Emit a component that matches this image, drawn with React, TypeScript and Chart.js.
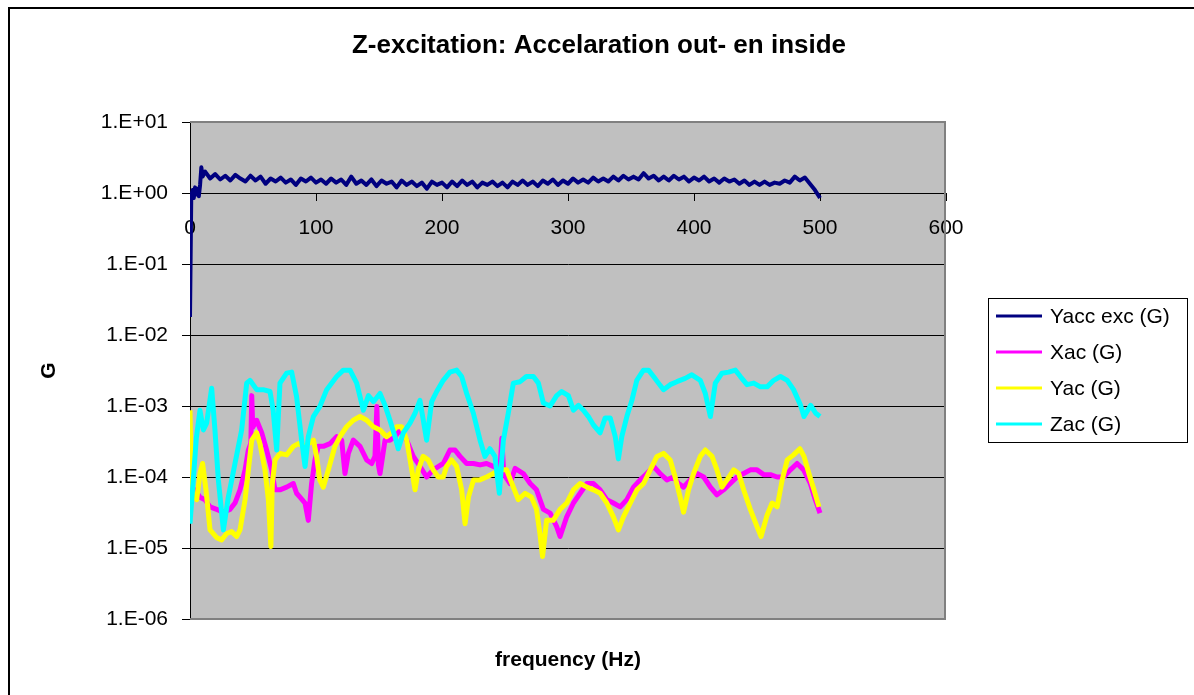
import React, { useEffect, useRef } from 'react';
import { Chart, registerables } from 'chart.js';

Chart.register(...registerables);

const FONT = "'Liberation Sans', Arial, sans-serif";

const TITLE = 'Z-excitation: Accelaration out- en inside';
const X_TITLE = 'frequency (Hz)';
const Y_TITLE = 'G';

const seriesLabels = ['Yacc exc (G)', 'Xac (G)', 'Yac (G)', 'Zac (G)'];
const seriesColors = ['#000080', '#FF00FF', '#FFFF00', '#00FFFF'];

const yTickValues = [1e-6, 1e-5, 1e-4, 1e-3, 1e-2, 1e-1, 1, 10];
const yTickLabels = ['1.E-06', '1.E-05', '1.E-04', '1.E-03', '1.E-02', '1.E-01', '1.E+00', '1.E+01'];
const xTickValues = [0, 100, 200, 300, 400, 500, 600];
const xTickLabels = ['0', '100', '200', '300', '400', '500', '600'];

// [frequency (Hz), G]
const yaccExc: [number, number][] = [
  [0, 0.018], [1, 0.9], [2, 1.1], [3, 0.85], [4, 1.2], [5, 0.95], [6, 1.15], [7, 0.9], [8, 1.3], [9, 2.3], [10, 1.7], [12, 2.0],
  [16, 1.6], [20, 1.85], [24, 1.55], [28, 1.75], [32, 1.5], [36, 1.8], [40, 1.6], [44, 1.45], [48, 1.75], [52, 1.5],
  [56, 1.7], [60, 1.35], [64, 1.6], [68, 1.45], [72, 1.65], [76, 1.4], [80, 1.55], [84, 1.3], [88, 1.6], [92, 1.45],
  [96, 1.65], [100, 1.4], [104, 1.55], [108, 1.35], [112, 1.6], [116, 1.4], [120, 1.55], [124, 1.3], [128, 1.7], [132, 1.35],
  [136, 1.5], [140, 1.3], [144, 1.55], [148, 1.25], [152, 1.5], [156, 1.35], [160, 1.45], [164, 1.2], [168, 1.5], [172, 1.3],
  [176, 1.45], [180, 1.25], [184, 1.4], [188, 1.15], [192, 1.45], [196, 1.3], [200, 1.4], [204, 1.2], [208, 1.45], [212, 1.25],
  [216, 1.5], [220, 1.3], [224, 1.45], [228, 1.2], [232, 1.4], [236, 1.3], [240, 1.45], [244, 1.25], [248, 1.4], [252, 1.2],
  [256, 1.45], [260, 1.3], [264, 1.5], [268, 1.3], [272, 1.45], [276, 1.25], [280, 1.5], [284, 1.35], [288, 1.55], [292, 1.3],
  [296, 1.5], [300, 1.35], [304, 1.6], [308, 1.4], [312, 1.55], [316, 1.4], [320, 1.65], [324, 1.45], [328, 1.6], [332, 1.45],
  [336, 1.7], [340, 1.5], [344, 1.75], [348, 1.55], [352, 1.7], [356, 1.55], [360, 1.9], [364, 1.6], [368, 1.75], [372, 1.5],
  [376, 1.7], [380, 1.5], [384, 1.75], [388, 1.55], [392, 1.7], [396, 1.45], [400, 1.65], [404, 1.5], [408, 1.7], [412, 1.45],
  [416, 1.6], [420, 1.4], [424, 1.6], [428, 1.45], [432, 1.55], [436, 1.35], [440, 1.5], [444, 1.3], [448, 1.45], [452, 1.3],
  [456, 1.45], [460, 1.3], [464, 1.4], [468, 1.35], [472, 1.5], [476, 1.4], [480, 1.7], [484, 1.5], [488, 1.65], [492, 1.35],
  [496, 1.1], [500, 0.85],
];

const xac: [number, number][] = [
  [0, 1.1e-4], [1.5, 5e-5], [3.9, 6.6e-5], [7.9, 5.2e-5], [11.9, 4.8e-5], [15.9, 3.8e-5], [21.2, 3.5e-5], [26.5, 3.2e-5],
  [31.7, 3.5e-5], [35.7, 4.3e-5], [39.7, 6.6e-5], [43.7, 1.26e-4], [46.3, 2.4e-4], [48.3, 3e-4], [49, 1.4e-3], [49.8, 5e-4],
  [52.9, 6.3e-4], [56.9, 4.2e-4], [60.8, 2.4e-4], [64.8, 1.26e-4], [67.5, 6.6e-5], [71.4, 6.6e-5], [76.7, 7.2e-5], [82, 8.1e-5],
  [84.6, 5.9e-5], [87.3, 5.2e-5], [91.3, 4.3e-5], [93.9, 2.45e-5], [96.5, 8.1e-5], [99.2, 1.74e-4], [101.8, 2.7e-4], [105.8, 2.7e-4],
  [111.1, 2.95e-4], [116.4, 3.7e-4], [120.4, 3.3e-4], [123, 1.12e-4], [125.7, 2.15e-4], [129.6, 3.3e-4], [134.9, 2.7e-4], [140.2, 1.74e-4],
  [144.2, 1.55e-4], [146.8, 1.95e-4], [148.3, 9.8e-4], [149.5, 1.5e-4], [150.8, 1.12e-4], [154.8, 3.3e-4], [158.7, 3.3e-4], [162.7, 3.7e-4],
  [166.6, 4.6e-4], [172, 3.3e-4], [177.2, 1.95e-4], [182.5, 1.41e-4], [187.8, 1.0e-4], [193, 1.26e-4], [201, 1.55e-4], [206.3, 2.4e-4],
  [210.3, 2.4e-4], [214.3, 1.95e-4], [219.6, 1.55e-4], [224.9, 1.55e-4], [230.2, 1.48e-4], [235.4, 1.55e-4], [240.7, 1.41e-4], [246, 1.26e-4],
  [247.5, 3.5e-4], [249, 1.1e-4], [254, 8.1e-5], [258, 1.32e-4], [264.5, 1.12e-4], [270, 8.1e-5], [275, 6.6e-5], [280.5, 3.5e-5],
  [285.8, 3.1e-5], [291, 2.0e-5], [293.7, 1.45e-5], [299, 2.75e-5], [304.3, 4.3e-5], [309.6, 5.9e-5], [315, 8.1e-5], [320.2, 8.1e-5],
  [325.5, 6.6e-5], [330.8, 4.8e-5], [336, 4.3e-5], [341.4, 3.8e-5], [346.7, 4.8e-5], [352, 7.2e-5], [357.3, 9.1e-5], [362.6, 1.12e-4],
  [367.9, 1.41e-4], [373, 1.12e-4], [378.5, 9.1e-5], [383.8, 1.0e-4], [387.8, 8.1e-5], [391.7, 7.2e-5], [397, 9.1e-5], [402.4, 1.12e-4],
  [407.7, 1.0e-4], [413, 7.2e-5], [418.2, 5.6e-5], [423.5, 6.6e-5], [428.8, 8.1e-5], [434.1, 1.0e-4], [439.4, 1.12e-4], [444.7, 1.26e-4],
  [450, 1.26e-4], [455.3, 1.08e-4], [460.6, 1.08e-4], [465.9, 1.0e-4], [471.2, 1.0e-4], [476.5, 1.26e-4], [481.8, 1.55e-4], [487, 1.26e-4],
  [492.3, 8.1e-5], [496.3, 4.8e-5], [500, 3.1e-5],
];

const yac: [number, number][] = [
  [0, 8.7e-4], [0.8, 1.5e-4], [2, 5.9e-5], [5.3, 4.8e-5], [7.9, 1.12e-4], [10, 1.55e-4], [12.7, 6.6e-5], [15.9, 1.8e-5],
  [21.2, 1.4e-5], [25.1, 1.3e-5], [29.1, 1.6e-5], [33, 1.7e-5], [37, 1.45e-5], [39.7, 1.8e-5], [43.7, 4.8e-5], [46.3, 1.26e-4],
  [49, 3.3e-4], [52.9, 4.2e-4], [55.5, 2.95e-4], [59.5, 1.26e-4], [62.2, 4.8e-5], [64.2, 1.05e-5], [65.3, 8e-5], [67.5, 1.74e-4],
  [71.4, 2.15e-4], [76.7, 2.05e-4], [82, 2.7e-4], [86, 2.95e-4], [90, 2.7e-4], [94, 2.95e-4], [98, 3.3e-4], [100.5, 1.95e-4],
  [103, 9.1e-5], [105.8, 7.2e-5], [109.8, 1.26e-4], [115, 2.7e-4], [119, 3.7e-4], [124.3, 5.1e-4], [129.6, 6.3e-4], [134.9, 7.1e-4],
  [140.2, 6.3e-4], [145.5, 5.1e-4], [150.8, 4.6e-4], [156, 3.7e-4], [160, 4.2e-4], [164, 5.1e-4], [168, 5.1e-4], [172, 3.3e-4],
  [176, 1.26e-4], [178.6, 6.6e-5], [181.2, 1.26e-4], [185, 1.95e-4], [189, 1.74e-4], [193, 1.26e-4], [197, 1.0e-4], [201, 1.0e-4],
  [203.6, 1.41e-4], [207.6, 1.74e-4], [211.6, 1.41e-4], [215.6, 6.6e-5], [218.3, 2.2e-5], [221, 5.2e-5], [225, 9.1e-5], [230, 9.1e-5],
  [235.4, 1.0e-4], [240.7, 1.12e-4], [246, 1.26e-4], [251.3, 1.26e-4], [256.6, 7.2e-5], [260.5, 4.8e-5], [266, 5.9e-5], [271, 5.2e-5],
  [275, 3.5e-5], [277.7, 1.6e-5], [279.8, 7.6e-6], [283, 2.45e-5], [288.3, 2.45e-5], [293.7, 3.5e-5], [299, 4.3e-5], [304.3, 6.6e-5],
  [309.6, 8.1e-5], [315, 7.2e-5], [320.2, 6.6e-5], [325.5, 5.9e-5], [330.8, 4.3e-5], [336, 2.75e-5], [340, 1.8e-5], [344, 2.75e-5],
  [349.4, 4.3e-5], [354.7, 6.6e-5], [360, 8.1e-5], [365.3, 1.26e-4], [370.6, 1.95e-4], [375.8, 2.15e-4], [381.1, 1.74e-4], [385, 1.0e-4],
  [389, 5.2e-5], [391.7, 3.2e-5], [395.7, 6.6e-5], [399.7, 1.12e-4], [405, 1.95e-4], [409, 2.4e-4], [414.3, 1.95e-4], [418.2, 1.26e-4],
  [422.2, 7.2e-5], [426.2, 9.1e-5], [431.5, 1.26e-4], [435.5, 1.12e-4], [439.4, 6.6e-5], [444.7, 3.5e-5], [450, 2.0e-5], [453.2, 1.45e-5],
  [458, 2.9e-5], [462, 4.3e-5], [466, 3.8e-5], [470, 9.1e-5], [474, 1.74e-4], [479, 2.05e-4], [484, 2.5e-4], [487.3, 1.95e-4],
  [491.2, 1.12e-4], [495.2, 6.6e-5], [499.2, 3.8e-5],
];

const zac: [number, number][] = [
  [0, 2.2e-5], [2.6, 9.1e-5], [5, 3.5e-4], [7.9, 8.7e-4], [10.6, 4.6e-4], [13.2, 5.75e-4], [17.2, 1.78e-3], [19.8, 4.6e-4],
  [22.5, 9.1e-5], [26.5, 1.8e-5], [30.4, 5.2e-5], [35.7, 1.55e-4], [41, 4.6e-4], [45, 2.1e-3], [47.6, 2.3e-3], [52.9, 1.7e-3],
  [58, 1.7e-3], [63.5, 1.6e-3], [66, 8.7e-4], [68.8, 2.4e-4], [71.4, 2.1e-3], [76.7, 2.9e-3], [80.7, 3.0e-3], [84.6, 1.35e-3],
  [88.6, 3.3e-4], [91.3, 1.41e-4], [93.9, 3.7e-4], [97.9, 7.1e-4], [103, 9.8e-4], [108.5, 1.7e-3], [116.4, 2.6e-3], [121.7, 3.2e-3],
  [127, 3.2e-3], [132.3, 2.1e-3], [137.6, 8.7e-4], [141.6, 1.4e-3], [145.6, 1.15e-3], [150.8, 1.5e-3], [154.8, 1.02e-3], [158.7, 6.3e-4],
  [162.7, 3.7e-4], [165.3, 2.5e-4], [169.3, 4.2e-4], [174.6, 5.75e-4], [178.6, 7.9e-4], [182.5, 1.2e-3], [187.8, 3.3e-4], [191.8, 1.15e-3],
  [195.8, 1.6e-3], [201, 2.3e-3], [206.3, 3.0e-3], [211.6, 3.2e-3], [215.6, 2.6e-3], [219.6, 1.5e-3], [224.9, 7.9e-4], [230.2, 3.3e-4],
  [234.1, 1.95e-4], [238, 2.5e-4], [242, 1.95e-4], [245.5, 5.9e-5], [248.7, 3.3e-4], [252.6, 7.9e-4], [256.6, 2.1e-3], [262, 2.2e-3],
  [267, 2.6e-3], [272.5, 2.6e-3], [276.5, 2.1e-3], [280.5, 1.1e-3], [285.8, 1.0e-3], [291, 1.4e-3], [295, 1.6e-3], [300.3, 1.4e-3],
  [304.3, 8.7e-4], [308.3, 1.02e-3], [312.2, 8.7e-4], [316.2, 7.1e-4], [320.2, 5.4e-4], [325.5, 4.2e-4], [329.5, 6.8e-4], [333.5, 6.8e-4],
  [337.5, 3.7e-4], [340, 1.8e-4], [342.7, 3.7e-4], [346.7, 7.1e-4], [350.7, 1.2e-3], [354.6, 2.3e-3], [359.9, 3.2e-3], [363.9, 3.2e-3],
  [367.9, 2.6e-3], [371.8, 2.1e-3], [375.8, 1.7e-3], [381.1, 2.0e-3], [386.4, 2.2e-3], [393, 2.45e-3], [398.3, 2.75e-3], [405, 2.3e-3],
  [409, 1.5e-3], [413, 7.1e-4], [416.9, 2.1e-3], [422.2, 2.9e-3], [427.5, 3.0e-3], [432.8, 3.2e-3], [436.8, 2.6e-3], [442.1, 2.0e-3],
  [447.4, 2.1e-3], [452.7, 1.86e-3], [458, 1.86e-3], [463.3, 2.3e-3], [468.6, 2.6e-3], [474, 2.3e-3], [479, 1.7e-3], [484.6, 1.02e-3],
  [487.3, 7.1e-4], [492.6, 1.02e-3], [496.6, 7.9e-4], [500, 7.1e-4],
];

const seriesData = [yaccExc, xac, yac, zac];
const seriesWidths = [4, 5, 5, 5];

const chartDecor = {
  id: 'chartDecor',
  beforeDraw(chart: any) {
    const { ctx, chartArea: a } = chart;
    ctx.save();
    ctx.fillStyle = '#FFFFFF';
    ctx.fillRect(0, 0, chart.width, chart.height);
    ctx.fillStyle = '#C0C0C0';
    ctx.fillRect(a.left, a.top, a.right - a.left, a.bottom - a.top);
    ctx.restore();
  },
  beforeDatasetsDraw(chart: any) {
    const { ctx, chartArea: a } = chart;
    ctx.save();
    ctx.strokeStyle = '#808080';
    ctx.lineWidth = 2;
    ctx.beginPath();
    ctx.moveTo(a.left, a.top);
    ctx.lineTo(a.right - 1, a.top);
    ctx.lineTo(a.right - 1, a.bottom);
    ctx.lineTo(a.left, a.bottom);
    ctx.stroke();
    ctx.restore();
  },
  afterDraw(chart: any) {
    const { ctx } = chart;
    ctx.save();
    // outer chart frame
    ctx.strokeStyle = '#000000';
    ctx.lineWidth = 2;
    ctx.strokeRect(9, 8, chart.width + 20, chart.height + 20);
    // legend box
    const bx = 988.5, by = 298.5, bw = 199, bh = 144;
    ctx.lineWidth = 1;
    ctx.strokeRect(bx, by, bw, bh);
    ctx.font = `21px ${FONT}`;
    ctx.textBaseline = 'middle';
    ctx.textAlign = 'left';
    chart.data.datasets.forEach((ds: any, i: number) => {
      const y = 316 + i * 36;
      ctx.strokeStyle = ds.borderColor;
      ctx.lineWidth = 3;
      ctx.beginPath();
      ctx.moveTo(996, y);
      ctx.lineTo(1042, y);
      ctx.stroke();
      ctx.fillStyle = '#000000';
      ctx.fillText(ds.label, 1050, y + 1);
    });
    ctx.restore();
  },
};

export default function App() {
  const ref = useRef<HTMLCanvasElement>(null);

  useEffect(() => {
    if (!ref.current) return;
    const datasets = seriesData.map((pts, i) => ({
      label: seriesLabels[i],
      data: pts.map(([f, v]) => ({ x: f, y: v })),
      borderColor: seriesColors[i],
      backgroundColor: seriesColors[i],
      borderWidth: seriesWidths[i],
      pointRadius: 0,
      fill: false,
      tension: 0,
      borderJoinStyle: 'round' as const,
      xAxisID: 'x',
      yAxisID: 'y',
      order: seriesData.length - 1 - i,
    }));

    const chart = new Chart(ref.current, {
      type: 'line',
      data: { datasets },
      plugins: [chartDecor],
      options: {
        animation: false,
        responsive: false,
        devicePixelRatio: 1,
        layout: { padding: { left: 4, right: 0, top: 0, bottom: 0 } },
        plugins: {
          legend: { display: false },
          tooltip: { enabled: false },
          title: {
            display: true,
            text: TITLE,
            color: '#000000',
            font: { family: FONT, size: 26, weight: 'bold' },
            padding: { top: 30, bottom: 60.8 },
          },
        },
        scales: {
          x: {
            type: 'linear',
            axis: 'x',
            position: { y: 1 } as any,
            min: 0,
            max: 600,
            afterBuildTicks: (s: any) => {
              s.ticks = xTickValues.map((v) => ({ value: v }));
            },
            ticks: {
              callback: (_v: any, i: number) => xTickLabels[i],
              color: '#000000',
              font: { family: FONT, size: 21 },
              padding: 16,
              maxRotation: 0,
              autoSkip: false,
            },
            grid: { display: true, drawOnChartArea: false, drawTicks: true, tickLength: 7, tickColor: '#000000' },
            border: { display: true, color: '#000000', width: 1 },
          },
          x2: {
            type: 'linear',
            axis: 'x',
            position: 'bottom',
            min: 0,
            max: 600,
            afterFit: (s: any) => {
              s.height = 76;
            },
            ticks: { display: false },
            grid: { display: false },
            border: { display: false },
            title: {
              display: true,
              text: X_TITLE,
              color: '#000000',
              font: { family: FONT, size: 21, weight: 'bold' },
              padding: { top: 0, bottom: 22 },
            },
          },
          y: {
            type: 'logarithmic',
            axis: 'y',
            position: 'left',
            min: 1e-6,
            max: 10,
            afterBuildTicks: (s: any) => {
              s.ticks = yTickValues.map((v) => ({ value: v }));
            },
            afterFit: (s: any) => {
              s.width = 186;
            },
            ticks: {
              callback: (_v: any, i: number) => yTickLabels[i],
              color: '#000000',
              font: { family: FONT, size: 21 },
              padding: 14,
              autoSkip: false,
            },
            grid: { display: true, drawOnChartArea: true, color: '#000000', lineWidth: 1, tickLength: 8, tickColor: '#000000' },
            border: { display: true, color: '#000000', width: 1 },
            title: {
              display: true,
              text: Y_TITLE,
              color: '#000000',
              font: { family: FONT, size: 21, weight: 'bold' },
              padding: { top: 33, bottom: 0 },
            },
          },
          y2: {
            type: 'linear',
            axis: 'y',
            position: 'right',
            min: 0,
            max: 1,
            afterFit: (s: any) => {
              s.width = 248;
            },
            ticks: { display: false },
            grid: { display: false },
            border: { display: false },
          },
        },
      } as any,
    });

    return () => chart.destroy();
  }, []);

  return (
    <div style={{ position: 'absolute', left: 0, top: 0, width: 1194, height: 695, background: '#FFFFFF' }}>
      <canvas ref={ref} width={1194} height={695} style={{ display: 'block', width: 1194, height: 695 }} />
    </div>
  );
}
